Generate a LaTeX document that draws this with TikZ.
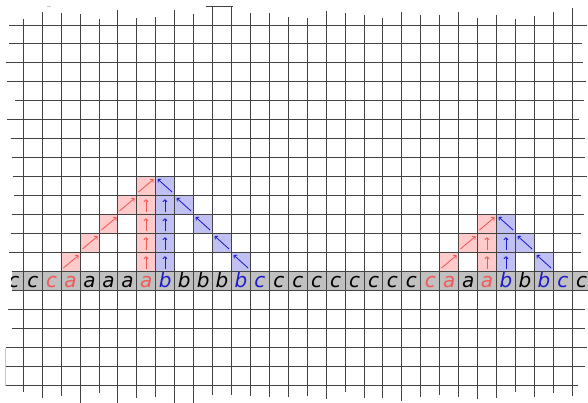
\documentclass[tikz,border=0pt]{standalone}
\usepackage{fontspec}
\setsansfont{DejaVu Sans}
\usetikzlibrary{arrows.meta}
\definecolor{pinkfill}{RGB}{255,202,202}
\definecolor{bluefill}{RGB}{192,192,242}
\definecolor{redink}{RGB}{242,88,88}
\definecolor{blueink}{RGB}{28,28,205}
\definecolor{gridgray}{RGB}{66,66,66}
\definecolor{stripgray}{RGB}{192,192,192}
\begin{document}
\begin{tikzpicture}[x=1pt,y=-1pt,
  gridline/.style={line width=1.7pt, draw=gridgray},
  faintline/.style={line width=0.9pt, draw=black!22},
  redarrow/.style={draw=redink, line width=0.85pt, -{To[length=2.8pt,width=4.8pt]}},
  bluearrow/.style={draw=blueink, line width=0.85pt, -{To[length=2.8pt,width=4.8pt]}},
  letter/.style={anchor=base, inner sep=0pt, font=\fontsize{20}{20}\selectfont\sffamily\itshape}]
\useasboundingbox (0,0) rectangle (588,403);
\def\xo{23.3}\def\dx{18.93}\def\yo{25}\def\dy{18.98}
\pgfmathsetmacro\ys{floor(\yo+13*\dy)+0.5}\pgfmathsetmacro\yt{floor(\yo+14*\dy)+0.5}
% letter strip background
\fill[stripgray] (11.7,\ys) rectangle (588,\yt);
% coloured cells with arrows
\newcommand\cellbox[3]{% #1 column, #2 row, #3 fill
  \pgfmathsetmacro\xa{floor(\xo+\dx*#1)+0.5}\pgfmathsetmacro\xb{floor(\xo+\dx*(#1+1))+0.5}%
  \pgfmathsetmacro\ya{floor(\yo+\dy*(13-#2))+0.5}\pgfmathsetmacro\yb{floor(\yo+\dy*(14-#2))+0.5}%
  \fill[#3] (\xa,\ya) rectangle (\xb,\yb);}
\foreach \i/\r in {2/1,3/2,4/3,5/4,6/5,22/1,23/2,24/3}{
  \cellbox{\i}{\r}{pinkfill}
  \draw[redarrow] ({\xa+0.1*\dx},{\ya+0.82*\dy}) -- ({\xa+0.9*\dx},{\ya+0.15*\dy});
}
\foreach \i/\r in {6/1,6/2,6/3,6/4,24/1,24/2}{
  \cellbox{\i}{\r}{pinkfill}
  \draw[redarrow] ({\xa+0.5*\dx},{\ya+0.88*\dy}) -- ({\xa+0.5*\dx},{\ya+0.2*\dy});
}
\foreach \i/\r in {7/1,7/2,7/3,7/4,25/1,25/2}{
  \cellbox{\i}{\r}{bluefill}
  \draw[bluearrow] ({\xa+0.5*\dx},{\ya+0.88*\dy}) -- ({\xa+0.5*\dx},{\ya+0.2*\dy});
}
\foreach \i/\r in {7/5,8/4,9/3,10/2,11/1,25/3,26/2,27/1}{
  \cellbox{\i}{\r}{bluefill}
  \draw[bluearrow] ({\xa+0.88*\dx},{\ya+0.82*\dy}) -- ({\xa+0.12*\dx},{\ya+0.14*\dy});
}
% letters
\begin{scope}
\clip (11.7,\ys) rectangle (588,\yt);
\foreach \i/\t/\c in {-1/c/black,0/c/black,1/c/redink,2/a/redink,3/a/black,4/a/black,5/a/black,6/a/redink,
  7/b/blueink,8/b/black,9/b/black,10/b/black,11/b/blueink,12/c/blueink,13/c/black,14/c/black,15/c/black,
  16/c/black,17/c/black,18/c/black,19/c/black,20/c/black,21/c/redink,22/a/redink,23/a/black,24/a/redink,
  25/b/blueink,26/b/black,27/b/blueink,28/c/blueink,29/c/black}{
  \node[letter, text=\c] (L\i) at ({\xo+\dx*(\i+0.5)},{\yt-2.6}) {\t};
}
\end{scope}
% vertical grid lines
\foreach \i/\ta/\tb in {0/19.3/391.7,1/12.3/398.3,2/12.7/396,3/14.3/402.7,4/19.3/392.7,5/10/402.7,
  6/18.3/398.3,7/17.3/396.7,8/10/402.7,9/14/402.7,10/6.7/395,11/6.7/395,12/13.3/396,13/13.3/396.7,
  14/17.3/396.7,15/18.3/396,16/11/399.3,17/13.3/391.7,18/15/398.3,19/18.3/398.3,20/12.3/401,
  21/15/396.7,22/15/395,23/11.7/396.7,24/17.7/399.3,25/15/398.3,26/19/391.7,27/15.7/396.7,
  28/11.7/392.7,29/8.3/396}{
  \pgfmathsetmacro\xv{floor(\xo+\dx*\i)+0.5}
  \draw[gridline] (\xv,\ta) -- (\xv,\tb);
}
% horizontal grid lines
\foreach \j/\la/\lb in {0/9.3/587.3,1/9.3/582.3,2/6/583,3/7.3/585.7,4/15/584,5/7.3/578.7,
  6/10.7/585,7/12.3/585,8/12.7/586.7,9/14/580.7,10/11.7/584,11/11/580.7,12/9.3/580.7,
  13/11.7/588,14/12.3/588,15/8.3/585,16/12.3/585,17/5.7/586.7,18/5.7/585,19/5.7/578}{
  \pgfmathsetmacro\yh{floor(\yo+\dy*\j)+0.5}
  \draw[gridline] (\la,\yh) -- (\lb,\yh);
}
% remnants at the edges
\draw[gridline] (206,6.5) -- (233,6.5);
\draw[faintline] (46.5,6.5) -- (50.5,6.5);
\draw[faintline] (5.5,347.5) -- (5.5,385.5);
\end{tikzpicture}
\end{document}
